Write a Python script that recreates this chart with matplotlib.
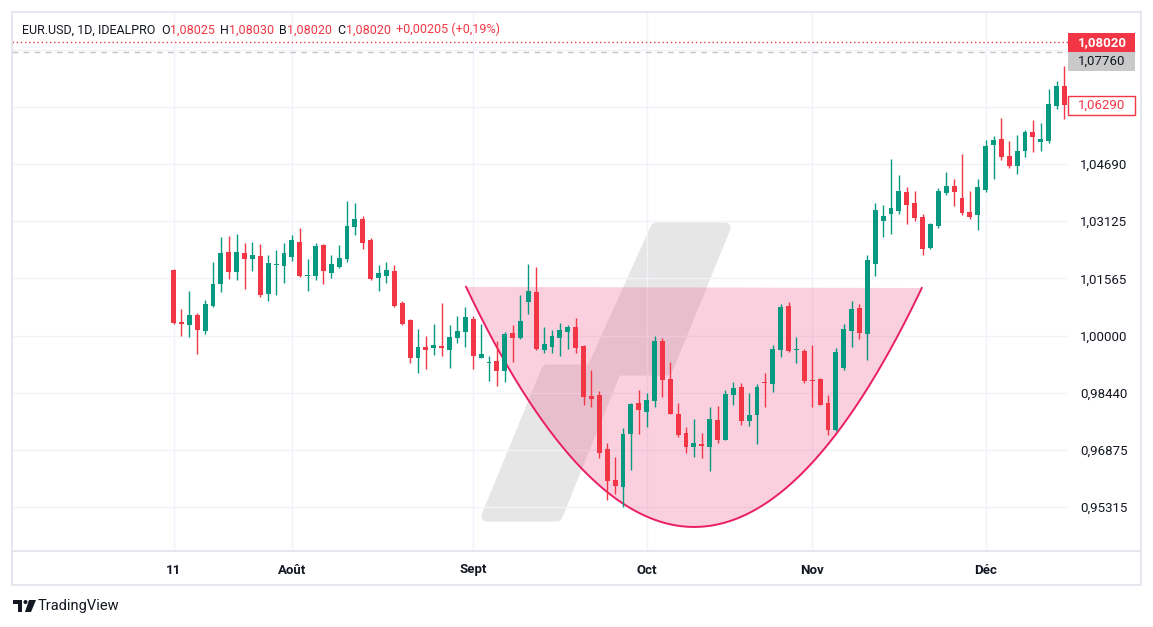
import numpy as np
import pandas as pd
import matplotlib
matplotlib.use('Agg')
import matplotlib.pyplot as plt
from matplotlib.patches import Rectangle, Polygon, Circle
from matplotlib.lines import Line2D
from matplotlib.transforms import Affine2D

plt.rcParams['font.family'] = ['Roboto', 'DejaVu Sans']

# EUR.USD daily candles, 11 Jul -> 15 Dec 2022
dates = pd.bdate_range('2022-07-11', '2022-12-15')

opens = [1.0179, 1.0037, 1.0030, 1.0056, 1.0013, 1.0081, 1.0142, 1.0229, 1.0175, 1.0226,
         1.0210, 1.0218, 1.0114, 1.0193, 1.0191, 1.0215, 1.0256, 1.0163, 1.0163, 1.0248,
         1.0172, 1.0188, 1.0210, 1.0298, 1.0319, 1.0261, 1.0157, 1.0163, 1.0177, 1.0089,
         1.0043, 0.9940, 0.9969, 0.9967, 0.9972, 0.9961, 0.9993, 1.0011, 1.0045, 0.9940,
         0.9925, 0.9930, 0.9902, 1.0007, 0.9994, 1.0092, 1.0119, 0.9961, 0.9969, 0.9994,
         1.0011, 1.0023, 0.9972, 0.9835, 0.9838, 0.9690, 0.9605, 0.9587, 0.9732, 0.9816,
         0.9792, 0.9822, 0.9985, 0.9881, 0.9786, 0.9734, 0.9696, 0.9704, 0.9696, 0.9769,
         0.9716, 0.9838, 0.9860, 0.9767, 0.9784, 0.9873, 0.9868, 0.9961, 1.0081, 0.9961,
         0.9958, 0.9880, 0.9881, 0.9816, 0.9743, 0.9912, 1.0013, 1.0075, 1.0005, 1.0196,
         1.0314, 1.0331, 1.0341, 1.0392, 1.0362, 1.0324, 1.0240, 1.0300, 1.0391, 1.0409,
         1.0376, 1.0338, 1.0330, 1.0399, 1.0522, 1.0537, 1.0491, 1.0464, 1.0505, 1.0557,
         1.0530, 1.0532, 1.0628, 1.0682]
highs = [1.0182, 1.0073, 1.0122, 1.0061, 1.0097, 1.0201, 1.0270, 1.0272, 1.0278, 1.0253,
         1.0256, 1.0250, 1.0221, 1.0234, 1.0253, 1.0275, 1.0294, 1.0209, 1.0253, 1.0250,
         1.0221, 1.0248, 1.0368, 1.0362, 1.0327, 1.0267, 1.0193, 1.0201, 1.0193, 1.0095,
         1.0045, 1.0018, 0.9999, 1.0032, 1.0089, 1.0029, 1.0053, 1.0078, 1.0053, 1.0032,
         0.9943, 0.9985, 1.0010, 1.0029, 1.0111, 1.0196, 1.0188, 1.0023, 1.0015, 1.0035,
         1.0029, 1.0048, 0.9974, 0.9906, 0.9849, 0.9707, 0.9669, 0.9748, 0.9816, 0.9851,
         0.9843, 0.9999, 0.9993, 0.9927, 0.9816, 0.9750, 0.9772, 0.9734, 0.9805, 0.9808,
         0.9851, 0.9873, 0.9870, 0.9843, 0.9868, 0.9898, 0.9974, 1.0086, 1.0092, 0.9996,
         0.9963, 0.9974, 0.9883, 0.9838, 0.9966, 1.0032, 1.0095, 1.0086, 1.0221, 1.0362,
         1.0357, 1.0483, 1.0439, 1.0406, 1.0395, 1.0332, 1.0308, 1.0403, 1.0447, 1.0428,
         1.0496, 1.0395, 1.0428, 1.0535, 1.0546, 1.0595, 1.0532, 1.0548, 1.0562, 1.0589,
         1.0581, 1.0674, 1.0696, 1.0737]
lows = [1.0033, 0.9999, 0.9997, 0.9951, 1.0005, 1.0079, 1.0120, 1.0155, 1.0152, 1.0127,
        1.0177, 1.0106, 1.0095, 1.0112, 1.0144, 1.0205, 1.0161, 1.0122, 1.0152, 1.0141,
        1.0157, 1.0186, 1.0202, 1.0276, 1.0238, 1.0152, 1.0122, 1.0144, 1.0078, 1.0029,
        0.9926, 0.9899, 0.9910, 0.9948, 0.9945, 0.9912, 0.9981, 0.9970, 0.9910, 0.9938,
        0.9877, 0.9863, 0.9874, 0.9929, 0.9992, 1.0060, 0.9962, 0.9953, 0.9953, 0.9945,
        0.9964, 0.9953, 0.9811, 0.9806, 0.9666, 0.9552, 0.9568, 0.9532, 0.9634, 0.9732,
        0.9751, 0.9806, 0.9833, 0.9785, 0.9724, 0.9680, 0.9669, 0.9666, 0.9631, 0.9707,
        0.9714, 0.9810, 0.9757, 0.9754, 0.9705, 0.9806, 0.9847, 0.9942, 0.9956, 0.9926,
        0.9871, 0.9806, 0.9809, 0.9729, 0.9740, 0.9907, 0.9970, 0.9992, 0.9934, 1.0164,
        1.0270, 1.0279, 1.0331, 1.0306, 1.0314, 1.0221, 1.0238, 1.0295, 1.0383, 1.0355,
        1.0330, 1.0320, 1.0289, 1.0393, 1.0429, 1.0481, 1.0459, 1.0443, 1.0489, 1.0503,
        1.0505, 1.0527, 1.0620, 1.0593]
closes = [1.0035, 1.0033, 1.0056, 1.0016, 1.0086, 1.0141, 1.0226, 1.0175, 1.0229, 1.0210,
          1.0221, 1.0111, 1.0199, 1.0196, 1.0226, 1.0261, 1.0163, 1.0166, 1.0245, 1.0177,
          1.0196, 1.0212, 1.0300, 1.0319, 1.0254, 1.0155, 1.0171, 1.0179, 1.0081, 1.0032,
          0.9940, 0.9969, 0.9961, 0.9974, 0.9967, 0.9996, 1.0012, 1.0051, 0.9943, 0.9950,
          0.9927, 0.9902, 1.0004, 0.9994, 1.0040, 1.0122, 0.9964, 0.9978, 0.9999, 1.0015,
          1.0023, 0.9967, 0.9833, 0.9828, 0.9680, 0.9603, 0.9590, 0.9731, 0.9813, 0.9797,
          0.9824, 0.9985, 0.9880, 0.9787, 0.9729, 0.9696, 0.9707, 0.9699, 0.9772, 0.9716,
          0.9840, 0.9857, 0.9767, 0.9783, 0.9860, 0.9871, 0.9963, 1.0078, 0.9959, 0.9964,
          0.9877, 0.9877, 0.9811, 0.9743, 0.9955, 1.0018, 1.0073, 1.0008, 1.0207, 1.0343,
          1.0327, 1.0349, 1.0395, 1.0358, 1.0322, 1.0238, 1.0306, 1.0395, 1.0409, 1.0393,
          1.0336, 1.0325, 1.0406, 1.0518, 1.0535, 1.0488, 1.0464, 1.0505, 1.0557, 1.0544,
          1.0537, 1.0633, 1.0682, 1.0629]

month_labels = ['11', 'Août', 'Sept', 'Oct', 'Nov', 'Déc']
price_ticks = [0.95315, 0.96875, 0.98440, 1.00000, 1.01565, 1.03125, 1.04690, 1.06250, 1.07810]
price_labels = ['0,95315', '0,96875', '0,98440', '1,00000', '1,01565', '1,03125', '1,04690', '', '']

# cup drawing anchors (bar index, price)
cup_left = (37.1, 1.0133)
cup_bottom = (66.0, 0.9477)
cup_right = (94.9, 1.0130)

last_price = 1.0802
prev_price = 1.0776
close_price = 1.0629

header_parts = [('EUR.USD, 1D, IDEALPRO', 'dark', 0), ('O', 'dark', 4), ('1,08025', 'red', 0),
                ('H', 'dark', 4), ('1,08030', 'red', 0), ('B', 'dark', 4), ('1,08020', 'red', 0),
                ('C', 'dark', 4), ('1,08020', 'red', 0), ('+0,00205 (+0,19%)', 'red', 4)]

UP = '#089981'
DOWN = '#f23645'
DARK = '#131722'
GRID = '#f0f3fa'
BORDER = '#e0e3eb'

W, H = 1153, 627
fig = plt.figure(figsize=(W / 100, H / 100), dpi=100)
fig.patch.set_facecolor('white')
px = Affine2D().scale(1 / W, -1 / H).translate(0, 1) + fig.transFigure

ax_h_px = 539
ax = fig.add_axes([12 / W, (H - 551) / H, 1056 / W, ax_h_px / H])
ax.set_xlim(-20.5, 113.45)
ax.set_ylim(0.94113, 1.08844)
for s in ax.spines.values():
    s.set_visible(False)

x = np.arange(len(dates))
o = np.array(opens)
c = np.array(closes)
colors = np.where(c >= o, UP, DOWN)

# month ticks: first bar, then first bar of every new month
month_idx = [0] + [i for i in range(1, len(dates)) if dates[i].month != dates[i - 1].month]
ax.set_xticks(month_idx)
ax.set_xticklabels(month_labels, fontsize=9.5, fontweight='bold', color=DARK)
ax.yaxis.tick_right()
ax.set_yticks(price_ticks)
ax.set_yticklabels(price_labels, fontsize=9.5, color=DARK)
ax.tick_params(axis='x', length=0, pad=9)
ax.tick_params(axis='y', length=0, pad=8.5)
ax.set_axisbelow(True)
ax.grid(True, color=GRID, lw=1)

# watermark
wm = [(656, 228), (725, 228), (667, 370), (616, 370), (557, 516), (487, 516), (547, 370), (592, 370)]
ax.add_patch(Polygon(wm, closed=True, transform=px, fc='#e6e6e6', ec='#e6e6e6', lw=8,
                     joinstyle='round', zorder=0.3))

# cup pattern (quadratic bezier through the bottom anchor)
p0 = np.array(cup_left)
p2 = np.array(cup_right)
p1 = 2 * np.array(cup_bottom) - 0.5 * (p0 + p2)
t = np.linspace(0, 1, 200)[:, None]
curve = (1 - t) ** 2 * p0 + 2 * (1 - t) * t * p1 + t ** 2 * p2
ax.add_patch(Polygon(curve, closed=True, fc='#f06292', alpha=0.3, ec='none', zorder=1))
ax.plot(curve[:, 0], curve[:, 1], color='#e91e63', lw=1.4, zorder=1.5)

# candles
ax.vlines(x, lows, highs, colors=colors, lw=1, zorder=3)
body_h = np.maximum(np.abs(c - o), 0.00028)
ax.bar(x, body_h, bottom=np.minimum(o, c), width=0.62, color=colors, zorder=3.5)

# price lines
ax.axhline(last_price, color=DOWN, lw=1, ls=(0, (1, 2)), zorder=2)
ax.axhline(prev_price, color='#c4c4c4', lw=1, ls=(0, (4, 4)), zorder=2)

# price labels on the axis
ymin, ymax = ax.get_ylim()
box_h = 19 * (ymax - ymin) / ax_h_px
bx0, bw = 113.5, 8.5
ax.add_patch(Rectangle((bx0, last_price - box_h / 2), bw, box_h, fc=DOWN, ec='none',
                       clip_on=False, zorder=5))
ax.text(bx0 + bw / 2, last_price, '1,08020', color='white', fontsize=9.5, fontweight='bold',
        ha='center', va='center', clip_on=False, zorder=6)
grey_c = last_price - box_h * 1.03
ax.add_patch(Rectangle((bx0, grey_c - box_h / 2), bw, box_h, fc='#c9c9c9', ec='none',
                       clip_on=False, zorder=5))
ax.text(bx0 + bw / 2, grey_c, '1,07760', color=DARK, fontsize=9.5,
        ha='center', va='center', clip_on=False, zorder=6)
ax.add_patch(Rectangle((bx0, close_price - box_h / 2), bw, box_h, fc='white', ec=DOWN, lw=1,
                       clip_on=False, zorder=5))
ax.text(bx0 + bw / 2, close_price, '1,06290', color=DOWN, fontsize=9.5,
        ha='center', va='center', clip_on=False, zorder=6)

# header legend
prev = ax.text((22 - 12) / 1056, (551 - 30) / 539, header_parts[0][0], transform=ax.transAxes,
               fontsize=9, color=DARK, va='center', ha='left', zorder=7)
for txt, col, gap in header_parts[1:]:
    prev = ax.annotate(txt, xy=(1, 0), xycoords=prev, xytext=(gap, 0), textcoords='offset points',
                       fontsize=9, color=DARK if col == 'dark' else DOWN, va='bottom', ha='left',
                       zorder=7)

# pane frame
fig.add_artist(Rectangle((11.5, 11.5), 1129, 573, transform=px, fill=False, ec=BORDER, lw=1.2))
fig.add_artist(Line2D([12, 1140], [551, 551], transform=px, color=BORDER, lw=1.2))

# footer logo
fig.add_artist(Rectangle((13, 600), 9, 4, transform=px, fc=DARK, ec='none'))
fig.add_artist(Rectangle((18, 600), 4, 12, transform=px, fc=DARK, ec='none'))
fig.add_artist(Circle((25.5, 602), 2, transform=px, fc=DARK, ec='none'))
fig.add_artist(Polygon([(29, 600), (36, 600), (31, 612), (25, 612)], transform=px, fc=DARK, ec='none'))
fig.text(38 / W, 1 - 606 / H, 'TradingView', fontsize=10.5, color=DARK, va='center', ha='left')

fig.savefig('out.png', dpi=100)
